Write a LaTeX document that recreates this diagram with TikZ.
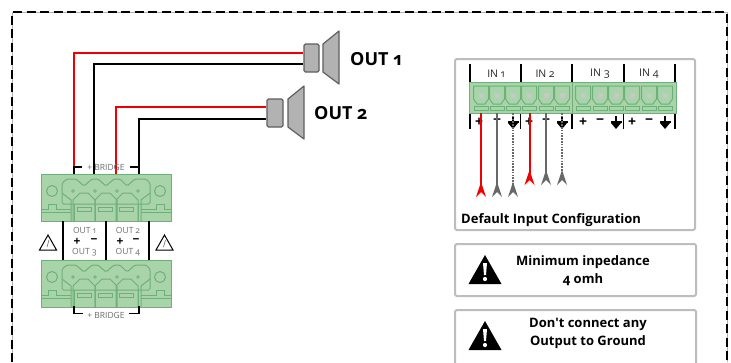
\documentclass[tikz,border=0pt]{standalone}
\usepackage{fontspec}
\setmainfont[Numbers=OldStyle,Ligatures=TeXOff]{Open Sans}
\begin{document}
\begin{tikzpicture}[x=1pt,y=-1pt,
  gline/.style={draw=gdark,line width=1pt},
  wirered/.style={draw=wred,line width=2pt},
  wireblack/.style={draw=black,line width=2pt},
  infobox/.style={draw=boxgray,line width=2pt,rounded corners=2pt,fill=white},
  lab/.style={font=\fontsize{8.5}{10}\selectfont,text=txtgray,inner sep=0pt},
  inlab/.style={font=\fontsize{10.5}{11}\selectfont,text=black!85,inner sep=0pt},
  boldlab/.style={font=\bfseries\fontsize{13}{14}\selectfont,inner sep=0pt,align=center},
  outlab/.style={font=\bfseries\fontsize{18}{20}\selectfont,inner sep=0pt},
  spkbody/.style={draw=spkedge,fill=spkfill,line width=1.2pt,rounded corners=1.5pt,inner sep=0pt},
  spkcone/.style={draw=spkedge,fill=spkfill,line width=1.2pt,line join=round},
  sign/.style={inner sep=0pt,font=\bfseries\fontsize{14}{14}\selectfont},
  smallsign/.style={inner sep=0pt,font=\bfseries\fontsize{12}{12}\selectfont},
]
\definecolor{gfill}{HTML}{A9D3A9}
\definecolor{gdark}{HTML}{6FB07A}
\definecolor{wred}{HTML}{F00000}
\definecolor{boxgray}{HTML}{BDBDBD}
\definecolor{txtgray}{HTML}{6E6E6E}
\definecolor{spkedge}{HTML}{5F5F5F}
\definecolor{spkfill}{HTML}{B2B2B2}
\definecolor{arrgray}{HTML}{686868}
\newcommand{\plug}[2]{%
  \begin{scope}[shift={(#1,#2)}]
    \draw[gline,fill=gfill] (0,0) rectangle (130,47);
    \draw[gline] (11,17) circle (5.5) (119,17) circle (5.5);
    \draw[gline,rounded corners=1.5pt] (21,30) -- (21,9) -- (26,5) -- (35,5) -- (43,12) -- (51,5) -- (57,5)
       -- (65,12) -- (73,5) -- (79,5) -- (86,12) -- (94,5) -- (105,5) -- (109,9) -- (109,30) -- cycle;
    \foreach \cx in {32,54,76,97}{\draw[gdark,line width=0.7pt] (\cx,17) circle (1.4);}
    \foreach \cx in {43,65,86}{\draw[gline] (\cx-11,47) -- (\cx-11,26) -- (\cx-4,19) -- (\cx+4,19) -- (\cx+11,26) -- (\cx+11,47);}
    \draw[gline] (21,19) -- (30,26) -- (30,47) (109,19) -- (100,26) -- (100,47);
    \draw[gline] (0,35) -- (7,35) -- (7,30) -- (15,30) -- (15,35) -- (30,35)
       (100,35) -- (115,35) -- (115,30) -- (123,30) -- (123,35) -- (130,35);
    \draw[gline] (0,38) -- (30,38) (100,38) -- (130,38);
    \foreach \cx in {33,54,75,97}{\draw[gline] (\cx,30) -- (\cx,47);}
    \foreach \cx in {36,57,78}{\draw[gline] (\cx,33) rectangle (\cx+14,37);}
  \end{scope}}
\newcommand{\slotmark}[1]{%
  \draw[gline,fill=gfill] (#1-7.5,86) -- (#1+7.5,86) -- (#1+7.5,99) -- (#1+4,104) -- (#1-4,104) -- (#1-7.5,99) -- cycle;
  \draw[gline] (#1-7,106.5) rectangle (#1+7,110);
  \fill[black!22] (#1-2.5,93) rectangle (#1+2.5,98);}
\newcommand{\gndmark}[1]{%
  \fill[black] (#1-0.8,116) rectangle (#1+0.8,121);
  \fill[black] (#1-5.5,121) rectangle (#1+5.5,123);
  \fill[black] (#1-5,123) -- (#1+5,123) -- (#1,129) -- cycle;}
\newcommand{\polarity}[3]{%
  \node[sign] (#3p) at (#1,122) {+};
  \node[sign] (#3m) at (#2,122) {\textminus};}
\newcommand{\barb}[4]{%
  \fill[#1] (#2,#3) -- (#2+5,#4) -- (#2,#4-5) -- (#2-5,#4) -- cycle;}
\useasboundingbox (0,0) rectangle (731,362);
\fill[white] (0,0) rectangle (731,362);
% dashed frame
\coordinate (fa) at (12,362); \coordinate (fb) at (12,12);
\coordinate (fc) at (727,12); \coordinate (fd) at (727,362);
\draw[black!30,line width=1pt] (fa) -- (fb) -- (fc) -- (fd);
\draw[black,line width=2.6pt,dash pattern=on 9pt off 4.5pt] (fa) -- (fb) -- (fc) -- (fd);
% speakers
\node[spkbody,minimum width=15pt,minimum height=28pt] (spkA) at (311.5,58) {};
\draw[spkcone] (323,44) -- (339,31) -- (339,84) -- (323,72) -- cycle;
\node[spkbody,minimum width=16pt,minimum height=28pt] (spkB) at (275,113) {};
\draw[spkcone] (288,99) -- (304,86) -- (304,139) -- (288,127) -- cycle;
\node[outlab,anchor=west] (outA) at (350,59) {OUT 1};
\node[outlab,anchor=west] (outB) at (314,113) {OUT 2};
% plugs
\plug{41}{174}
\plug{41}{260}
% wires
\coordinate (ra) at (74,174); \coordinate (ba) at (94,174);
\coordinate (rb) at (116,174); \coordinate (bb) at (139,174);
\coordinate (sa1) at (spkA.west|-0,53); \coordinate (sa2) at (spkA.west|-0,64);
\coordinate (sb1) at (spkB.west|-0,107); \coordinate (sb2) at (spkB.west|-0,119);
\draw[wirered] (ra) |- (sa1);
\draw[wireblack] (ba) |- (sa2);
\draw[wirered] (rb) |- (sb1);
\draw[wireblack] (bb) |- (sb2);
% bridge top
\coordinate (t1) at (74,174); \coordinate (t2) at (139,174);
\coordinate (t3) at (74,306); \coordinate (t4) at (139,306);
\draw[black,line width=1.5pt] (t1) -- (74,167) -- (82,167) (130,167) -- (139,167) -- (t2);
\draw[black,line width=1.5pt] (t3) -- (74,313.5) -- (83,313.5) (129,313.5) -- (139,313.5) -- (t4);
\node[lab] (brA) at (106,167) {+ BRIDGE};
\node[lab] (brB) at (106,315) {+ BRIDGE};
% between plugs
\foreach \vx in {63,106,149}{\draw[black,line width=1.5pt] (\vx,221) -- (\vx,260);}
\node[lab] (o1) at (84.5,230.5) {OUT 1};
\node[lab] (o3) at (84.5,252.5) {OUT 3};
\node[lab] (o2) at (128,230.5) {OUT 2};
\node[lab] (o4) at (128,252.5) {OUT 4};
\node[smallsign] (pa) at (77,241.5) {+};
\node[smallsign] (ma) at (94,241.5) {\textminus};
\node[smallsign] (pb) at (120,241.5) {+};
\node[smallsign] (mb) at (136,241.5) {\textminus};
% outline warnings
\foreach \wx in {48,164.5}{
  \draw[black,line width=1pt,line join=miter] (\wx,235) -- (\wx+8.5,250) -- (\wx-8.5,250) -- cycle;
  \draw[black!60,line width=0.6pt] (\wx+1,240) -- (\wx-1,247);}
% input box
\draw[infobox] (455,59) rectangle (695,230);
\draw[gline,fill=gfill] (469,82) rectangle (676,113);
\draw[gline] (572,82) -- (572,113);
\foreach \sx in {481,497,513,529,546,562,583,600,616,632,649,665}{\slotmark{\sx}}
\foreach \tx in {470,521,572,624,675}{
  \draw[black,line width=1.5pt] (\tx,64) -- (\tx,82);}
\foreach \tx in {470,520.5,572,623.5,675}{
  \draw[black,line width=1.5pt] (\tx,114) -- (\tx,129);}
\node[inlab] (in1) at (496,74) {IN 1};
\node[inlab] (in2) at (545,74) {IN 2};
\node[inlab] (in3) at (600,74) {IN 3};
\node[inlab] (in4) at (649,74) {IN 4};
\polarity{479}{497}{a}
\polarity{529}{546}{b}
\polarity{583}{600}{c}
\polarity{632}{649}{d}
\foreach \gx in {513,562,616,665}{\gndmark{\gx}}
% input wires
\coordinate (ia) at (481,113); \coordinate (ib) at (497,113); \coordinate (ic) at (513,113);
\coordinate (id) at (529.5,113); \coordinate (ie) at (546,113); \coordinate (if) at (562,113);
\coordinate (ja) at (481,190); \coordinate (jb) at (497,190); \coordinate (jc) at (513,190);
\coordinate (jd) at (529.5,178); \coordinate (je) at (546,178); \coordinate (jf) at (562,178);
\draw[wirered] (ia) -- (ja);
\draw[arrgray,line width=2pt] (ib) -- (jb);
\draw[arrgray,line width=2pt,dash pattern=on 1.6pt off 1.2pt] (ic) -- (jc);
\draw[wirered] (id) -- (jd);
\draw[arrgray,line width=2pt] (ie) -- (je);
\draw[arrgray,line width=2pt,dash pattern=on 1.6pt off 1.2pt] (if) -- (jf);
\barb{wred}{481}{182}{197}
\barb{arrgray}{497}{182}{197}
\barb{arrgray}{513}{182}{197}
\barb{wred}{529.5}{170}{185}
\barb{arrgray}{546}{170}{185}
\barb{arrgray}{562}{170}{185}
\node[boldlab,anchor=west] (cap) at (461,220) {Default Input Configuration};
% notes
\draw[infobox] (455,244) rectangle (696,296);
\draw[infobox] (455,310) rectangle (696,372);
\foreach \ty in {255,321}{
  \fill[black,line join=round] (485,\ty) -- (501.5,\ty+29) -- (468.5,\ty+29) -- cycle;
  \fill[white] (483,\ty+8) -- (487,\ty+8) -- (486,\ty+20) -- (484,\ty+20) -- cycle;
  \fill[white] (485,\ty+24) circle (2.1);}
\node[boldlab] (n1) at (583,262) {Minimum inpedance};
\node[boldlab] (n2) at (583,280) {4 omh};
\node[boldlab] (n3) at (588,324) {Don't connect any};
\node[boldlab] (n4) at (588,342) {Output to Ground};
\end{tikzpicture}
\end{document}
